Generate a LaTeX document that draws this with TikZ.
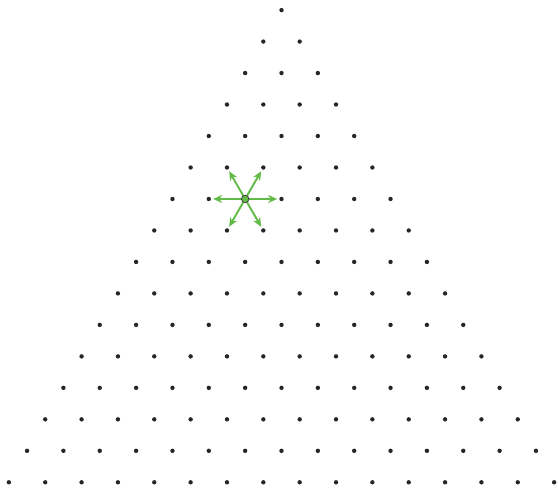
\documentclass[tikz,border=0pt]{standalone}
\usetikzlibrary{arrows.meta}
\definecolor{latgreen}{RGB}{98,187,70}
\begin{document}
\begin{tikzpicture}[x=1pt,y=1pt,
    % lattice sites and the hops out of one site
    site/.style={circle, fill=black!85, inner sep=0pt, minimum size=4.4pt},
    hop/.style={-{Stealth[length=9pt,width=8pt]}, draw=latgreen, fill=latgreen, line width=1.9pt, shorten >=2pt},
    hub/.style={circle, draw=black!70, fill=latgreen, inner sep=0pt, minimum size=7.5pt, line width=0.9pt}
]
    \useasboundingbox (0,0) rectangle (558,488);

    % --- Configuration ---
    \def\spacing{36.35} % distance between neighbouring sites
    \def\rowgap{31.48}  % vertical distance between rows

    % --- Triangular lattice, row by row from the apex ---
    \foreach \row in {0,...,15} {
        \foreach \col in {0,...,\row} {
            \node[site] (p\row-\col) at ({281.5+(\col-\row/2)*\spacing},{477.9-\row*\rowgap}) {};
        }
    }

    % --- Hops to the six nearest neighbours ---
    \foreach \nb in {p6-1, p6-3, p5-1, p5-2, p7-2, p7-3}
        \draw[hop] (p6-2) -- (\nb);

    \node[hub] (start) at (p6-2) {};

\end{tikzpicture}
\end{document}
